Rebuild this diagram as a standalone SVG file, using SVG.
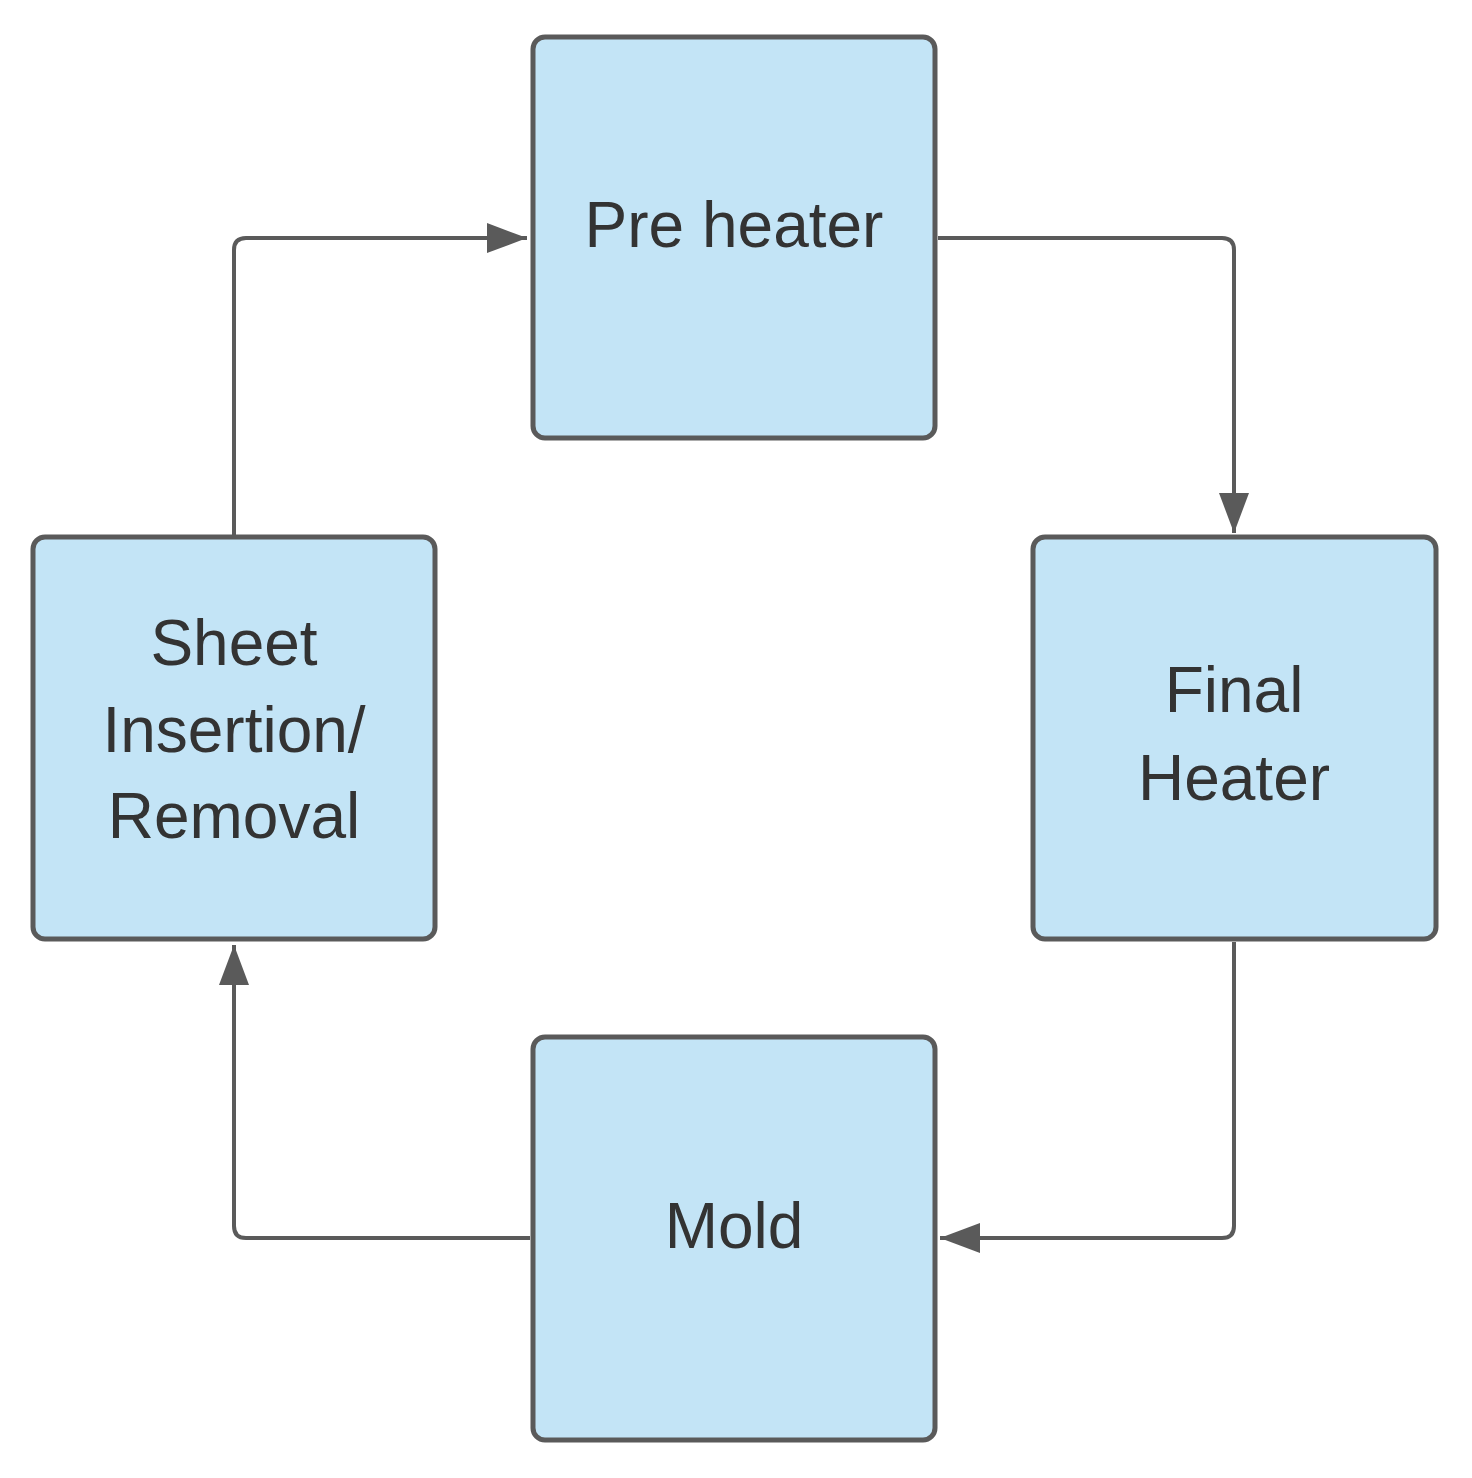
<svg xmlns="http://www.w3.org/2000/svg" width="1472" height="1478" viewBox="0 0 1472 1478">
<style>
.box{fill:#c3e4f6;stroke:#5a5a5a;stroke-width:5}
.t{font-family:"Liberation Sans",Arial,sans-serif;font-size:64px;fill:#333;text-anchor:middle}
.c{fill:none;stroke:#5a5a5a;stroke-width:4}
</style>
<defs><marker id="a" markerWidth="12" markerHeight="10" refX="11" refY="5" orient="auto" markerUnits="userSpaceOnUse" viewBox="0 0 12 10"><path d="M0,0L12,5L0,10z" fill="#5a5a5a"/></marker>
<marker id="b" viewBox="0 0 40 30" refX="40" refY="15" markerWidth="40" markerHeight="30" orient="auto" markerUnits="userSpaceOnUse"><path d="M0,0L40,15L0,30z" fill="#5a5a5a"/></marker></defs>
<rect width="1472" height="1478" fill="#fff"/>
<g id="connectors">
<path class="c" d="M234,535V250Q234,238 246,238H527" marker-end="url(#b)"/>
<path class="c" d="M938,238H1222Q1234,238 1234,250V533" marker-end="url(#b)"/>
<path class="c" d="M1234,942V1226Q1234,1238 1222,1238H940" marker-end="url(#b)"/>
<path class="c" d="M530,1238H246Q234,1238 234,1226V945" marker-end="url(#b)"/>
</g>
<g id="pre"><rect class="box" x="533" y="37" width="402" height="401" rx="12"/><text class="t" x="734" y="247">Pre heater</text></g>
<g id="final"><rect class="box" x="1033" y="537" width="403" height="402" rx="12"/><text class="t" x="1234" y="712">Final</text><text class="t" x="1234" y="800">Heater</text></g>
<g id="sheet"><rect class="box" x="33" y="537" width="402" height="402" rx="12"/><text class="t" x="234" y="665">Sheet</text><text class="t" x="234" y="752">Insertion/</text><text class="t" x="234" y="838">Removal</text></g>
<g id="mold"><rect class="box" x="533" y="1037" width="402" height="403" rx="12"/><text class="t" x="734" y="1248">Mold</text></g>
</svg>
